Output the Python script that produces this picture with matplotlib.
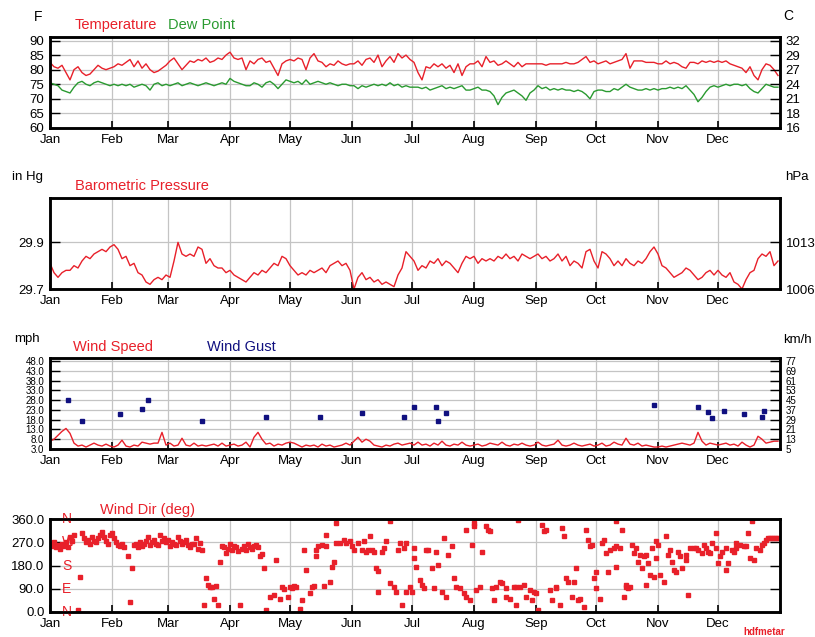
import numpy as np
import matplotlib
matplotlib.use("Agg")
import matplotlib.pyplot as plt

plt.rcParams['font.family'] = ['Liberation Sans', 'DejaVu Sans']

W, H = 815, 637

months = ['Jan', 'Feb', 'Mar', 'Apr', 'May', 'Jun', 'Jul', 'Aug', 'Sep', 'Oct', 'Nov', 'Dec']
month_start = [0, 31, 59, 90, 120, 151, 181, 212, 243, 273, 304, 334]

# every second day of the year
temp_f = [
    82.5, 81, 80.5, 81.5, 79, 76.5, 80, 81, 79, 78, 78.5, 80, 81.5, 80.5, 80, 80.5,
    81, 82, 81.5, 82.5, 83.5, 81, 83, 80.5, 82, 80, 79, 79.5, 80.5, 81.5,
    83, 84, 82, 80, 81.5, 83, 82.5, 83.5, 83, 84, 82.5, 83, 84, 83.5, 85,
    86, 84, 83.5, 84, 80, 83, 82, 83.5, 84, 82.5, 83, 80.5, 78, 82, 83,
    83.5, 83, 84, 83.5, 80, 84, 85.5, 83, 82.5, 81, 82, 81.5, 83, 82, 81.5, 82,
    82, 83, 81.5, 83.5, 84, 82.5, 85, 81, 83, 84.5, 82.5, 85.5, 84, 85, 83.5,
    82.5, 79, 76.5, 81, 80.5, 82, 81, 82, 80.5, 81.5, 79, 82, 78, 81, 82,
    82, 83, 81, 84.5, 82.5, 83, 81.5, 82, 83, 82, 81, 82.5, 81, 82, 82, 82,
    82, 82, 81.5, 82, 82, 82, 82, 82.5, 82, 82, 82.5, 83.5, 84.5, 82.5, 83,
    82, 82.5, 83, 82, 82.5, 83, 83.5, 85.5, 80.5, 83, 83, 83, 82.5, 82.5, 82.5,
    82, 82, 83, 82, 82.5, 82, 81, 80.5, 82.5, 82.5, 82, 83, 82.5, 83, 82.5,
    83, 82.5, 83, 82, 81.5, 81, 80.5, 79, 81, 78, 76.5, 80, 82, 81.5, 80, 78,
]
dew_f = [
    75.5, 75, 74.5, 73, 72.5, 72, 74, 75.5, 76, 75, 74.5, 75.5, 76, 75.5, 75, 74.5,
    75, 74.5, 75, 74.5, 75, 74, 74.5, 75, 74.5, 73, 75, 75.5, 74.5, 75,
    74.5, 75, 75.5, 74.5, 75, 75.5, 75, 74.5, 75, 75.5, 75, 74.5, 75, 75.5, 75,
    77, 76, 75.5, 75, 74.5, 74.5, 75.5, 75, 74, 75.5, 76, 75, 73.5, 75, 76.5,
    76, 75.5, 76, 75, 76.5, 75, 75.5, 76, 75.5, 75, 75.5, 75, 74.5, 75, 75, 74.5,
    74.5, 73.5, 74.5, 74, 74.5, 75, 74.5, 75, 74.5, 75.5, 74.5, 75, 74, 74.5, 74,
    74, 74, 73.5, 74, 73, 73.5, 74, 74.5, 73.5, 74, 73.5, 74, 74.5, 73, 73,
    73.5, 74, 73, 73, 72.5, 71, 68, 70.5, 72, 72.5, 73, 72, 71, 69.5, 72, 73,
    74.5, 73.5, 74, 73, 73.5, 73, 73.5, 73, 73, 72.5, 73, 72.5, 71.5, 70, 72.5,
    73, 73, 72.5, 72.5, 73.5, 73, 74, 75, 74, 73.5, 73, 73, 73.5, 73, 73.5,
    73, 73.5, 73.5, 74, 73.5, 74, 73.5, 74.5, 73, 71.5, 69, 70.5, 72.5, 74, 74.5,
    74, 74.5, 75, 74.5, 75, 75, 74.5, 75, 73.5, 72.5, 72, 73.5, 75, 74.5, 74, 74,
]
pressure_inhg = [
    29.81, 29.77, 29.75, 29.77, 29.78, 29.78, 29.80, 29.79, 29.82, 29.84, 29.83, 29.85, 29.86, 29.87, 29.86, 29.88,
    29.89, 29.87, 29.83, 29.84, 29.80, 29.81, 29.77, 29.76, 29.73, 29.72, 29.74, 29.75, 29.74, 29.76,
    29.75, 29.82, 29.90, 29.85, 29.84, 29.85, 29.84, 29.88, 29.87, 29.81, 29.83, 29.80, 29.79, 29.79, 29.77,
    29.78, 29.76, 29.75, 29.74, 29.73, 29.75, 29.77, 29.76, 29.78, 29.77, 29.79, 29.81, 29.80, 29.84, 29.83,
    29.80, 29.78, 29.76, 29.77, 29.76, 29.78, 29.77, 29.78, 29.79, 29.77, 29.80, 29.81, 29.82, 29.80, 29.81, 29.78,
    29.70, 29.75, 29.77, 29.74, 29.75, 29.73, 29.74, 29.72, 29.73, 29.72, 29.71, 29.76, 29.79, 29.86, 29.84,
    29.82, 29.78, 29.80, 29.79, 29.82, 29.81, 29.83, 29.80, 29.82, 29.81, 29.79, 29.77, 29.81, 29.84, 29.83,
    29.84, 29.81, 29.83, 29.82, 29.83, 29.82, 29.84, 29.83, 29.85, 29.83, 29.84, 29.82, 29.85, 29.84, 29.83, 29.84,
    29.85, 29.83, 29.84, 29.82, 29.83, 29.85, 29.82, 29.84, 29.80, 29.82, 29.81, 29.79, 29.86, 29.87, 29.82,
    29.79, 29.86, 29.85, 29.83, 29.80, 29.82, 29.80, 29.83, 29.81, 29.80, 29.82, 29.81, 29.83, 29.86, 29.88,
    29.85, 29.80, 29.79, 29.77, 29.75, 29.76, 29.77, 29.79, 29.78, 29.76, 29.74, 29.75, 29.77, 29.78, 29.76,
    29.78, 29.76, 29.75, 29.77, 29.73, 29.72, 29.70, 29.74, 29.77, 29.78, 29.83, 29.85, 29.84, 29.86, 29.80, 29.82,
]
wind_mph = [
    7, 8, 10, 12, 13.5, 11, 6, 4.5, 5, 4, 5, 6, 5, 4.5, 5.5, 4.5,
    4, 5, 7.5, 4.5, 4, 5, 4.5, 6.5, 6, 5.5, 6, 6, 11.5, 5,
    6, 4.5, 5, 8.5, 5, 4.5, 6, 4.5, 5, 4.5, 5, 5.5, 4.5, 6, 4.5,
    5, 5.5, 4.5, 5, 6.5, 4, 9, 11.5, 8, 5.5, 6, 4.5, 5.5, 5, 6,
    6.5, 6, 5, 4, 5, 4.5, 5, 4, 5.5, 4.5, 5, 4, 4.5, 5, 6, 5,
    7, 9, 6.5, 8, 7, 5, 4.5, 4, 5, 4.5, 5.5, 6, 5, 5.5, 6,
    5, 6.5, 5, 5.5, 4.5, 6, 5, 7, 5, 4.5, 5.5, 5, 6.5, 5, 4.5,
    5, 5.5, 4.5, 5, 6, 5.5, 5, 6.5, 5, 4.5, 5.5, 5, 6, 5, 4.5, 5,
    6.5, 5, 4.5, 5, 5.5, 7.5, 5, 4.5, 5, 6, 5, 4.5, 5, 5.5, 4.5,
    5, 6, 4.5, 5, 6.5, 5.5, 5, 8.5, 5.5, 5, 6, 4.5, 5, 4.5, 4,
    4, 4.5, 4, 4.5, 5, 5.5, 6, 5.5, 5, 6, 11.5, 7, 5, 6, 5.5,
    5, 5.5, 6, 5, 5.5, 4.5, 6.5, 5, 4, 5, 9.5, 8, 6, 6.5, 7, 7,
]
days = np.arange(0, 365, 2)

gust_days = [9, 16, 35, 46, 49, 76, 108, 135, 156, 177, 182, 193, 194, 198,
             302, 324, 329, 331, 337, 347, 356, 357]
gust_mph = [28, 17.5, 21, 23.5, 28, 17.5, 19.5, 19.5, 21.5, 19.5, 24.5, 24.5, 17.5, 21.5,
            25.5, 24.5, 22, 19, 22.5, 21, 19.5, 22.5]

dir_days = [
    0, 1, 2, 3, 4, 5, 6, 7, 8, 9, 10, 11, 12, 14, 15, 16, 17, 18, 19, 20, 21, 22, 23, 24, 25, 26, 27, 28, 29, 30,
    31, 32, 33, 34, 35, 36, 37, 39, 40, 41, 42, 43, 44, 45, 46, 47, 48, 49, 50, 51, 52, 53, 54, 55, 56, 57, 58,
    59, 60, 61, 62, 63, 64, 65, 66, 67, 68, 69, 70, 71, 72, 73, 74, 75, 76,
    77, 78, 79, 80, 81, 82, 83, 84, 85, 86, 87, 88, 89,
    90, 91, 92, 93, 94, 95, 96, 97, 98, 99, 100, 101, 102, 103, 104, 105, 106, 107, 108, 110, 112, 113, 115,
    116, 117, 119, 120, 121, 122, 123,
    125, 126, 127, 128, 130, 131, 132, 133, 133, 134, 136, 137, 138, 138, 140, 141, 142, 143, 143, 145, 147,
    148, 150, 151, 152, 154, 156, 157, 158, 159, 160, 161, 162, 163, 164, 164, 166, 167, 168, 170, 170, 172,
    173, 174, 175, 176, 177, 178, 178, 180, 181, 182, 182, 183, 185, 186, 187, 188, 189, 191, 192, 193, 194,
    196, 197, 198, 199, 201, 202, 203, 205, 207, 208, 208, 210, 211, 212, 212, 213, 215, 216, 218, 219, 220,
    221, 222, 223, 225, 226, 228, 228, 230, 232, 233, 233, 234, 235, 237, 238, 240, 241, 242, 243, 244, 246,
    247, 248, 250, 251, 253, 253, 255, 256, 257, 258, 259, 261, 262, 263, 264, 265, 267, 268, 269, 270, 271,
    272, 273, 273,
    275, 276, 277, 278, 279, 280, 282, 283, 283, 283, 285, 286, 287, 288, 288, 289, 290, 291, 292, 293, 294,
    295, 296, 297, 298, 298, 299, 300, 301, 302, 303, 303, 304, 305, 307, 308, 309, 310, 311, 312, 313, 314,
    315, 316, 318, 318, 319, 320, 322, 323, 324, 326, 327, 328, 329, 330, 331, 333, 333, 334, 335, 336, 338,
    338, 339, 341, 342, 343, 343, 345, 347, 348, 349, 350, 351, 352, 353, 355, 356, 357, 358, 359, 360, 361,
    362, 363, 364,
]
dir_deg = [
    265, 255, 270, 250, 260, 245, 262, 255, 270, 250, 290, 275, 300, 7, 134, 305, 285, 270, 280, 265, 290, 275, 270, 285, 300, 310, 290, 275, 265, 300,
    305, 285, 270, 260, 255, 265, 250, 215, 39, 169, 258, 262, 250, 270, 255, 265, 275, 290, 260, 270, 280, 265, 260, 300, 275, 285, 270,
    280, 255, 270, 265, 260, 290, 275, 265, 270, 280, 258, 250, 262, 265, 285, 245, 268, 240,
    28, 130, 104, 98, 98, 52, 100, 26, 195, 255, 250, 230, 245,
    265, 240, 255, 250, 235, 26, 245, 255, 240, 265, 250, 245, 255, 260, 250, 215, 225, 169, 7, 59, 65, 201, 52,
    98, 90, 59, 98, 91, 100, 95,
    13, 45, 241, 163, 72, 98, 100, 215, 241, 254, 260, 100, 299, 254, 117, 176, 195, 345, 267, 267, 280,
    267, 273, 254, 241, 267, 241, 273, 234, 241, 293, 241, 234, 169, 160, 78, 234, 247, 273, 351, 111, 98,
    78, 241, 267, 26, 247, 267, 78, 98, 78, 247, 208, 176, 124, 104, 91, 241, 241, 169, 91, 234, 182,
    78, 286, 59, 221, 254, 130, 98, 91, 72, 59, 319, 46, 260, 332, 345, 85, 98, 234, 332, 319, 312,
    91, 46, 98, 117, 111, 59, 91, 52, 98, 26, 98, 358, 98, 104, 59, 85, 46, 78, 72, 7, 338,
    312, 319, 85, 46, 98, 91, 26, 325, 293, 130, 117, 59, 117, 169, 46, 52, 20, 319, 280, 254, 260,
    130, 91, 156,
    52, 267, 280, 228, 156, 241, 247, 351, 254, 176, 247, 319, 59, 98, 104, 91, 98, 260, 228, 247, 195,
    221, 169, 215, 221, 104, 189, 143, 247, 137, 208, 273, 260, 143, 117, 293, 221, 241, 195, 163, 156, 234,
    215, 169, 202, 221, 65, 247, 247, 247, 241, 228, 260, 247, 234, 228, 267, 247, 306, 189, 215, 234, 247,
    163, 189, 241, 234, 247, 267, 260, 254, 254, 306, 208, 351, 202, 247, 241, 260, 267, 280, 286, 286, 286,
    286, 286, 286,
]

temp_ticks = [60, 65, 70, 75, 80, 85, 90]
press_ticks = [29.7, 29.9]
wind_ticks = [3, 8, 13, 18, 23, 28, 33, 38, 43, 48]
dir_ticks = [0, 90, 180, 270, 360]
dir_letters = ['N', 'E', 'S', 'W', 'N']

RED = '#e8202a'
GREEN = '#2a9a30'
NAVY = '#101080'
GRID = '#c4c4c4'

fig = plt.figure(figsize=(W / 100, H / 100), dpi=100)


def px_axes(top, bottom):
    left, right = 50, 780
    return fig.add_axes([left / W, 1 - bottom / H, (right - left) / W, (bottom - top) / H])


def ftext(x, y, s, **kw):
    fig.text(x / W, 1 - y / H, s, **kw)


def style(ax, yticks, ylabels, ylim, rlabels, lsize=9.5, lfam=None):
    ax.set_xlim(0, 365)
    ax.set_ylim(*ylim)
    ax.set_xticks(month_start)
    ax.set_xticklabels(months, fontsize=9.5)
    ax.set_yticks(yticks)
    kw = {'fontsize': lsize}
    if lfam:
        kw['family'] = lfam
    ax.set_yticklabels(ylabels, **kw)
    ax.grid(True, color=GRID, linewidth=0.9)
    ax.set_axisbelow(True)
    ax.tick_params(axis='x', direction='in', length=5, width=1.2, pad=4, colors='black')
    ax.tick_params(axis='y', direction='in', length=7, width=1.0, pad=4)
    for sp in ax.spines.values():
        sp.set_linewidth(1.8)
    ax2 = ax.twinx()
    ax2.set_ylim(*ylim)
    ax2.set_yticks(yticks)
    ax2.set_yticklabels(rlabels, **kw)
    ax2.tick_params(axis='y', direction='in', length=7, width=1.0, pad=4)
    for sp in ax2.spines.values():
        sp.set_linewidth(1.8)
    return ax2


# Temperature / dew point
ax1 = px_axes(37, 128)
ax1.plot(days, temp_f, color=RED, lw=1.0)
ax1.plot(days, dew_f, color=GREEN, lw=1.0)
style(ax1, temp_ticks, [str(t) for t in temp_ticks], (60, 91.2),
      [str(int(round((t - 32) * 5 / 9))) for t in temp_ticks])
ftext(38, 17, 'F', fontsize=10, ha='center', va='center')
ftext(788, 16, 'C', fontsize=10, ha='center', va='center')
ftext(75, 25, 'Temperature', fontsize=10.5, color=RED, va='center')
ftext(168, 25, 'Dew Point', fontsize=10.5, color=GREEN, va='center')

# Pressure
ax2 = px_axes(198, 289)
ax2.plot(days, pressure_inhg, color=RED, lw=1.0)
style(ax2, press_ticks, ['%.1f' % p for p in press_ticks], (29.7, 30.09),
      [str(int(round(p * 33.8639))) for p in press_ticks])
ftext(12, 177, 'in Hg', fontsize=9.5, va='center')
ftext(785, 177, 'hPa', fontsize=9.5, va='center')
ftext(75, 186, 'Barometric Pressure', fontsize=10.5, color=RED, va='center')

# Wind speed / gust
ax3 = px_axes(358, 449)
ax3.plot(days, wind_mph, color=RED, lw=1.0)
ax3.plot(gust_days, gust_mph, 's', color=NAVY, ms=3, ls='none')
style(ax3, wind_ticks, ['%.1f' % w for w in wind_ticks], (3, 49.5),
      [str(int(round(w * 1.609))) for w in wind_ticks], lsize=7,
      lfam=['Liberation Sans Narrow', 'Liberation Sans', 'DejaVu Sans'])
ftext(14, 339, 'mph', fontsize=9.5, va='center')
ftext(783, 340, 'km/h', fontsize=9.5, va='center')
ftext(73, 347, 'Wind Speed', fontsize=10.5, color=RED, va='center')
ftext(207, 347, 'Wind Gust', fontsize=10.5, color=NAVY, va='center')

# Wind direction
ax4 = px_axes(519, 612)
ax4.plot(dir_days, dir_deg, 's', color=RED, ms=3, ls='none')
r = style(ax4, dir_ticks, ['%.1f' % d for d in dir_ticks], (0, 360), ['' for d in dir_ticks])
for d, l in zip(dir_ticks, dir_letters):
    ax4.text(6, d, l, color=RED, fontsize=10, ha='left', va='center')
ftext(100, 510, 'Wind Dir (deg)', fontsize=10.5, color=RED, va='center')
ftext(764, 632, 'hdfmetar', fontsize=7, color=RED, ha='center', va='center', fontweight='bold')

fig.savefig('out.png', dpi=100)
